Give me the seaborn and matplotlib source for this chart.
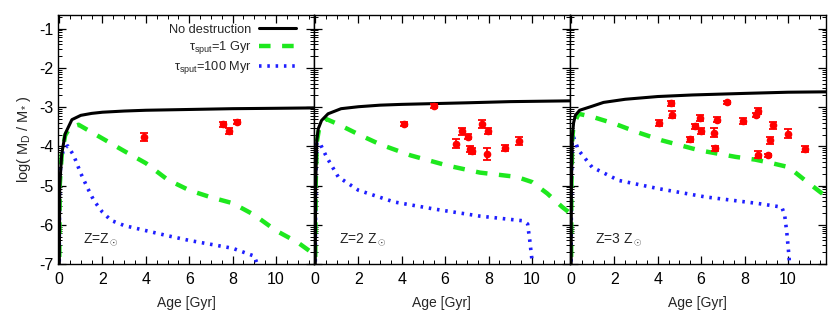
import numpy as np
import pandas as pd
import matplotlib
matplotlib.use("Agg")
import matplotlib.pyplot as plt
import seaborn as sns
from matplotlib.ticker import FixedLocator, MultipleLocator

# ---------------- data ----------------
panel_labels = [r"Z=Z$_\odot$", r"Z=2 Z$_\odot$", r"Z=3 Z$_\odot$"]
series_names = ["No destruction", "τ$_{\\rm sput}$=1 Gyr", "τ$_{\\rm sput}$=100 Myr"]

# Panel 1 (Z = Zsun)
age_nd_1 = [0, 0.03, 0.12, 0.28, 0.59, 1.0, 1.5, 2, 3, 4, 6, 8, 10, 11.8]
logm_nd_1 = [-8, -5.0, -4.2, -3.68, -3.32, -3.21, -3.16, -3.13, -3.1, -3.08, -3.06, -3.04, -3.03, -3.02]
age_g_1 = [0, 0.03, 0.12, 0.28, 0.5, 0.9, 2, 3, 4, 5, 6, 7, 8, 9, 10, 11, 11.75]
logm_g_1 = [-8, -5.0, -4.22, -3.72, -3.52, -3.45, -3.8, -4.12, -4.43, -4.85, -5.12, -5.3, -5.45, -5.75, -6.15, -6.45, -6.75]
age_b_1 = [0, 0.02, 0.08, 0.2, 0.4, 0.67, 1.0, 1.3, 1.6, 2.0, 2.4, 3, 4, 5, 6, 7, 8, 9, 9.2]
logm_b_1 = [-8, -5.0, -4.43, -4.06, -3.99, -4.23, -4.69, -5.05, -5.38, -5.68, -5.89, -6.02, -6.15, -6.28, -6.4, -6.5, -6.6, -6.8, -7.1]
obs_age_1 = [3.92, 7.57, 7.85, 8.19]
obs_logm_1 = [-3.77, -3.44, -3.61, -3.39]
obs_err_1 = [0.1, 0.07, 0.07, 0.05]

# Panel 2 (Z = 2 Zsun)
age_nd_2 = [0, 0.03, 0.08, 0.15, 0.3, 0.6, 1.2, 2, 3, 4, 5.5, 7, 9, 11.8]
logm_nd_2 = [-8, -5.0, -3.85, -3.55, -3.34, -3.17, -3.04, -2.99, -2.95, -2.93, -2.91, -2.89, -2.86, -2.84]
age_g_2 = [0, 0.03, 0.08, 0.2, 0.5, 1, 2.1, 3, 4.4, 6.1, 7.6, 9.3, 10, 10.7, 11.4, 11.75]
logm_g_2 = [-8, -5.0, -3.9, -3.5, -3.3, -3.42, -3.72, -3.95, -4.23, -4.49, -4.67, -4.78, -4.91, -5.2, -5.55, -5.7]
age_b_2 = [0, 0.03, 0.08, 0.25, 0.53, 1.07, 2, 3.65, 5.5, 7.6, 9.6, 9.8, 9.9, 10.0, 10.05]
logm_b_2 = [-8, -5.0, -3.9, -3.95, -4.27, -4.78, -5.12, -5.42, -5.6, -5.78, -5.9, -5.98, -6.4, -6.9, -7.2]
obs_age_2 = [4.11, 5.48, 6.52, 6.78, 7.03, 7.15, 7.22, 7.72, 7.99, 7.95, 8.75, 9.39]
obs_logm_2 = [-3.43, -2.98, -3.93, -3.62, -3.75, -4.06, -4.12, -3.43, -3.61, -4.19, -4.04, -3.87]
obs_err_2 = [0.05, 0.05, 0.12, 0.1, 0.07, 0.08, 0.08, 0.1, 0.07, 0.15, 0.07, 0.1]

# Panel 3 (Z = 3 Zsun)
age_nd_3 = [0, 0.02, 0.06, 0.12, 0.2, 0.4, 0.96, 1.5, 2.5, 4, 5.6, 8, 10, 11.8]
logm_nd_3 = [-8, -5.0, -3.75, -3.4, -3.21, -3.08, -2.98, -2.88, -2.8, -2.73, -2.69, -2.65, -2.62, -2.61]
age_g_3 = [0, 0.02, 0.06, 0.12, 0.35, 1, 2.05, 3, 4.2, 5.9, 7.6, 8.5, 9.26, 10.03, 10.8, 11.5, 11.75]
logm_g_3 = [-8, -5.0, -3.8, -3.45, -3.17, -3.25, -3.43, -3.63, -3.85, -4.1, -4.27, -4.34, -4.43, -4.53, -4.87, -5.17, -5.27]
age_b_3 = [0, 0.02, 0.06, 0.12, 0.35, 0.97, 2.2, 4.04, 6.19, 8.65, 9.72, 9.85, 9.95, 10.05, 10.1]
logm_b_3 = [-8, -5.0, -3.8, -3.77, -4.1, -4.53, -4.87, -5.08, -5.29, -5.46, -5.55, -5.75, -6.2, -6.8, -7.2]
obs_age_3 = [4.07, 4.61, 4.67, 5.7, 5.5, 5.96, 6.01, 6.58, 6.75, 6.65, 7.19, 7.91, 8.53, 8.62, 8.62, 9.08, 9.16, 9.3, 10.0, 10.78]
obs_logm_3 = [-3.4, -2.9, -3.19, -3.49, -3.82, -3.27, -3.61, -3.65, -3.32, -4.05, -2.88, -3.36, -3.19, -3.1, -4.21, -4.23, -3.85, -3.46, -3.68, -4.06]
obs_err_3 = [0.07, 0.06, 0.1, 0.07, 0.07, 0.08, 0.08, 0.12, 0.07, 0.06, 0.04, 0.08, 0.05, 0.07, 0.09, 0.04, 0.08, 0.09, 0.12, 0.08]

y_ticks = [-1, -2, -3, -4, -5, -6, -7]
x_ticks = [0, 2, 4, 6, 8, 10]

# ---------------- style ----------------
sns.set_theme(style="white")
plt.rcParams["font.family"] = ["Liberation Sans", "DejaVu Sans"]
plt.rcParams["mathtext.fontset"] = "custom"
plt.rcParams["mathtext.rm"] = "Liberation Sans"
plt.rcParams["mathtext.it"] = "Liberation Sans:italic"
plt.rcParams["mathtext.bf"] = "Liberation Sans:bold"
plt.rcParams["axes.unicode_minus"] = False

c_black = "#000000"
c_green = "#1ee81e"
c_blue = "#1f1fff"
c_red = "#ff0000"

fig, axes = plt.subplots(1, 3, figsize=(8.3, 3.12), dpi=100, sharey=True)
fig.subplots_adjust(left=0.0699, right=0.995, top=0.952, bottom=0.154, wspace=0)

panels = [
    (age_nd_1, logm_nd_1, age_g_1, logm_g_1, age_b_1, logm_b_1, obs_age_1, obs_logm_1, obs_err_1),
    (age_nd_2, logm_nd_2, age_g_2, logm_g_2, age_b_2, logm_b_2, obs_age_2, obs_logm_2, obs_err_2),
    (age_nd_3, logm_nd_3, age_g_3, logm_g_3, age_b_3, logm_b_3, obs_age_3, obs_logm_3, obs_err_3),
]

minor_y = []
for n in range(-8, 0):
    for k in range(2, 10):
        minor_y.append(n + np.log10(k))

for i, (ax, p) in enumerate(zip(axes, panels)):
    a_nd, m_nd, a_g, m_g, a_b, m_b, oa, om, oe = p
    sns.lineplot(x=a_b, y=m_b, ax=ax, color=c_blue, lw=2.6, sort=False,
                 linestyle=(0, (0.7, 1.6)), label=series_names[2])
    sns.lineplot(x=a_g, y=m_g, ax=ax, color=c_green, lw=3.2, sort=False,
                 linestyle=(0, (2.6, 2.6)), label=series_names[1])
    sns.lineplot(x=a_nd, y=m_nd, ax=ax, color=c_black, lw=2.2, sort=False,
                 label=series_names[0])
    ax.errorbar(oa, om, yerr=oe, fmt="o", color=c_red, ms=4.5, capsize=3,
                elinewidth=1.3, capthick=1.3, zorder=5)
    ax.set_xlim(-0.05, 11.75)
    ax.set_ylim(-7, -0.65)
    ax.xaxis.set_major_locator(FixedLocator(x_ticks))
    ax.xaxis.set_minor_locator(MultipleLocator(0.5))
    ax.yaxis.set_major_locator(FixedLocator(y_ticks))
    ax.yaxis.set_minor_locator(FixedLocator(minor_y))
    ax.tick_params(axis="both", which="both", direction="in", top=True, right=True,
                   left=True, bottom=True, colors="black", labelsize=11.5)
    ax.tick_params(which="major", length=6, width=0.9)
    ax.tick_params(which="minor", length=3, width=0.7)
    ax.tick_params(axis="x", pad=6)
    for s in ax.spines.values():
        s.set_color("black")
        s.set_linewidth(1.0)
    ax.set_xlabel("Age [Gyr]", fontsize=10, labelpad=6)
    ax.text(1.1, -6.38, panel_labels[i], fontsize=10, va="center", ha="left")
    if i == 0:
        h, l = ax.get_legend_handles_labels()
        order = [2, 1, 0]
        ax.legend([h[j] for j in order], [l[j] for j in order], loc="upper right",
                  markerfirst=False, frameon=False, fontsize=9.2, handlelength=2.9,
                  labelspacing=0.25, borderaxespad=0.3, handletextpad=0.6,
                  bbox_to_anchor=(0.965, 1.0))
        ax.set_ylabel(r"log( M$_{\rm D}$ / M$_{*}$ )", fontsize=10.5, labelpad=4)
    else:
        if ax.get_legend() is not None:
            ax.get_legend().remove()
        ax.set_ylabel("")

fig.savefig("out.png", dpi=100)
